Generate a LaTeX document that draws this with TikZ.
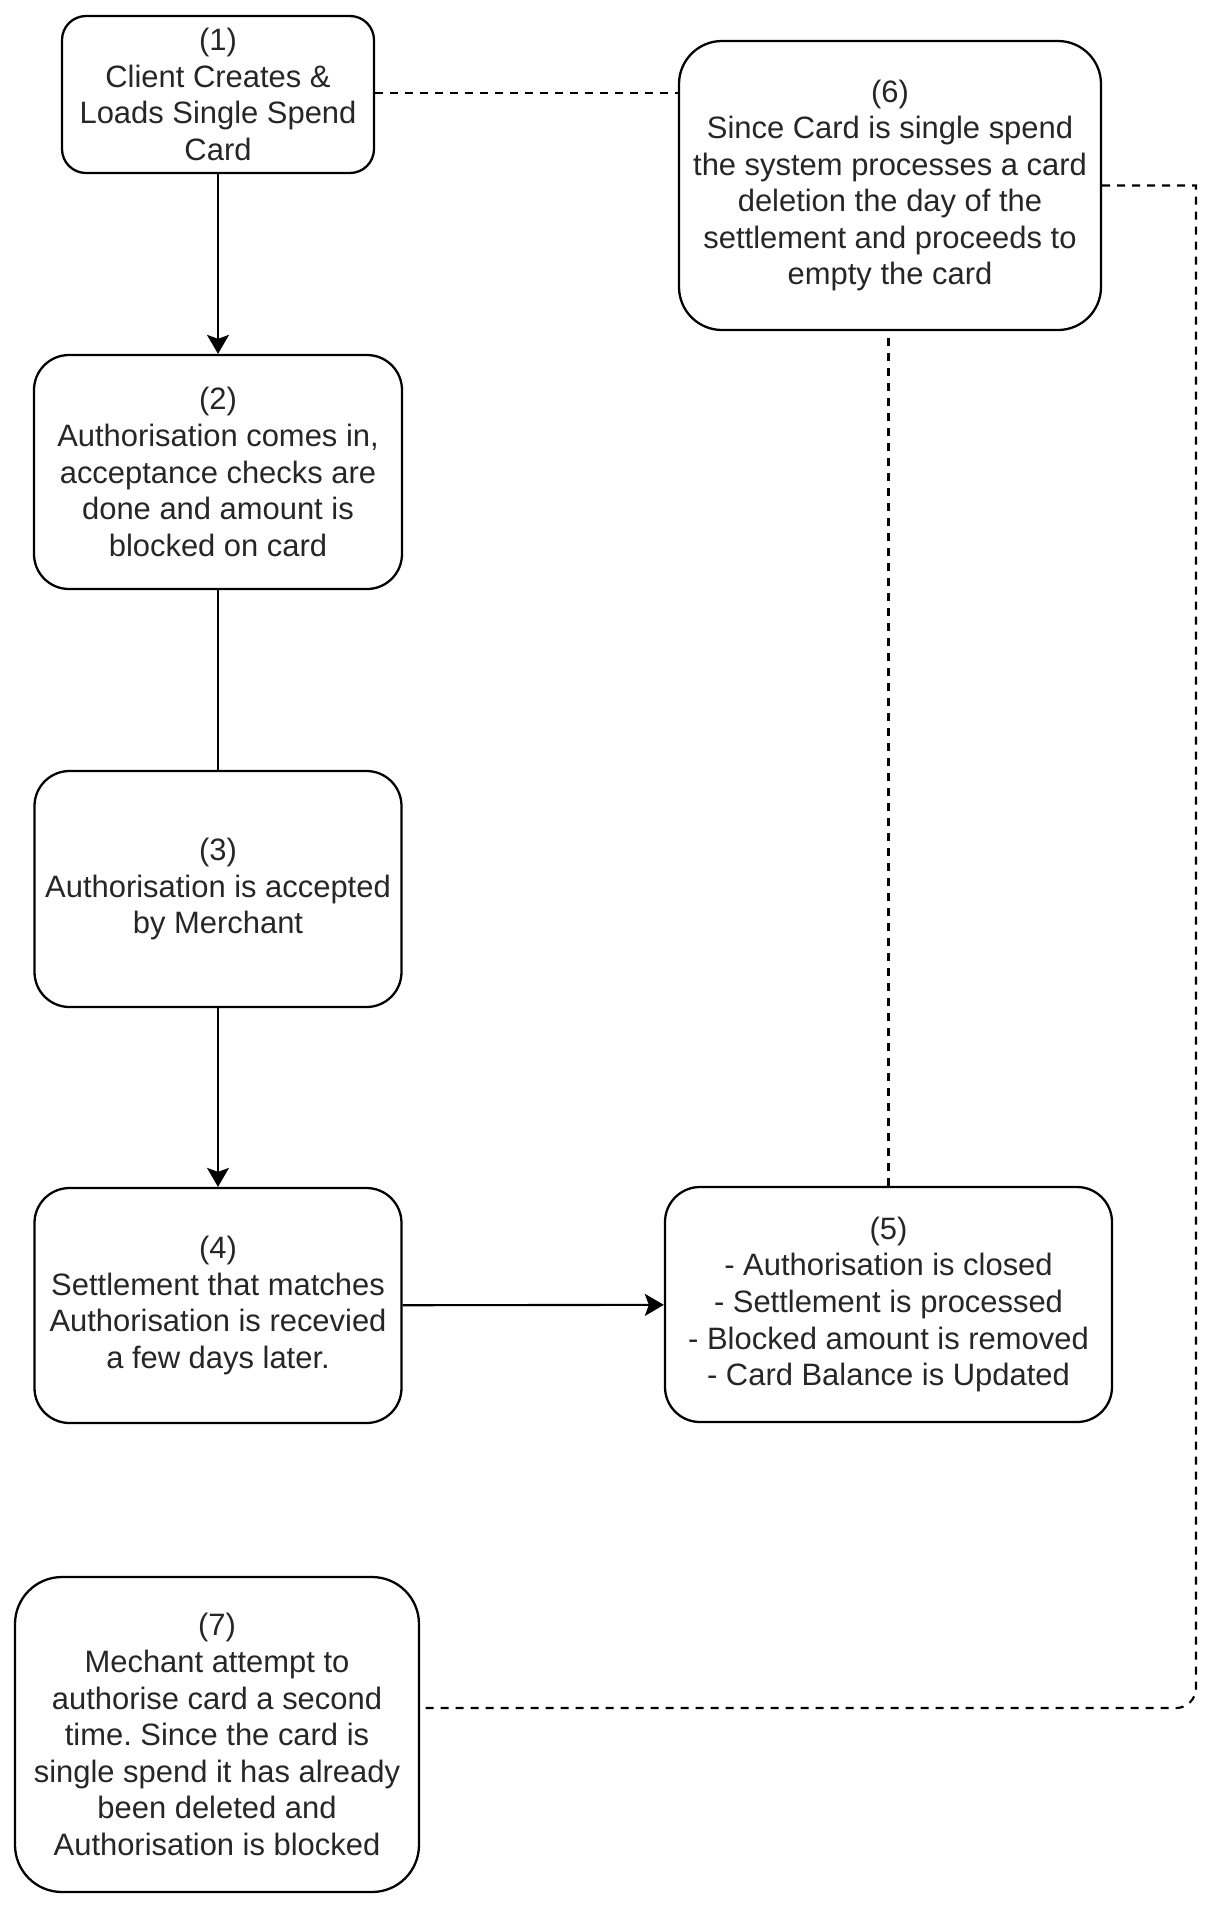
\documentclass[tikz,border=0pt]{standalone}
\usepackage{fontspec}
\setmainfont{Liberation Sans}
\usepackage{tikz}
\usetikzlibrary{arrows.meta,positioning,calc}
\newcommand{\stepnum}[1]{(#1)}
\frenchspacing

\begin{document}
\begin{tikzpicture}[
	box/.style={draw,line width=1.3pt,rounded corners=0.7cm,align=center,inner sep=0pt,
		text=black!85,font=\fontsize{17.6pt}{20.8pt}\selectfont},
	link/.style={line width=1.2pt,dash pattern=on 0.16cm off 0.14cm},
	flow/.style={line width=1.2pt},
	>={Stealth[length=0.38cm,width=0.44cm,inset=0.08cm]}]
	\useasboundingbox (0,0) rectangle (24.56,-38.32);
	\node[box,minimum width=6.24cm,minimum height=3.14cm,rounded corners=0.48cm] (b1) at (4.36,-1.89)
		{\stepnum{1}\\Client Creates \&\\Loads Single Spend\\Card};
	\node[box,minimum width=7.36cm,minimum height=4.68cm] (b2) at (4.36,-9.44)
		{\stepnum{2}\\Authorisation comes in,\\acceptance checks are\\done and amount is\\blocked on card};
	\node[box,minimum width=7.34cm,minimum height=4.72cm] (b3) at (4.36,-17.78)
		{\stepnum{3}\\Authorisation is accepted\\by Merchant};
	\node[box,minimum width=7.34cm,minimum height=4.70cm] (b4) at (4.36,-26.11)
		{\stepnum{4}\\Settlement that matches\\Authorisation is recevied\\a few days later.};
	\node[box,minimum width=8.94cm,minimum height=4.70cm] (b5) at (17.77,-26.09)
		{\stepnum{5}\\- Authorisation is closed\\- Settlement is processed\\- Blocked amount is removed\\- Card Balance is Updated};
	\node[box,minimum width=8.44cm,minimum height=5.78cm,rounded corners=0.86cm] (b6) at (17.80,-3.71)
		{\stepnum{6}\\Since Card is single spend\\the system processes a card\\deletion the day of the\\settlement and proceeds to\\empty the card};
	\node[box,minimum width=8.08cm,minimum height=6.30cm,rounded corners=0.94cm] (b7) at (4.34,-34.69)
		{\stepnum{7}\\Mechant attempt to\\authorise card a second\\time. Since the card is\\single spend it has already\\been deleted and\\Authorisation is blocked};
	\coordinate (side) at (23.92,-34.16);

	\draw[flow,->] (b1) -- (b2);
	\draw[flow] (b2) -- (b3);
	\draw[flow,->] (b3) -- (b4);
	\draw[flow,->] (b4) -- (b5);
	\draw[link] (b1.east |- 0,-1.86) -- (b6.west |- 0,-1.86);
	\draw[link,shorten >=0.14cm] (b5.north) -- (b5.north |- b6.south);
	\draw[link] (b6.east) -- (b6.east -| side) [rounded corners=0.4cm] -- (side) -- (b7.east |- side);
\end{tikzpicture}
\end{document}
